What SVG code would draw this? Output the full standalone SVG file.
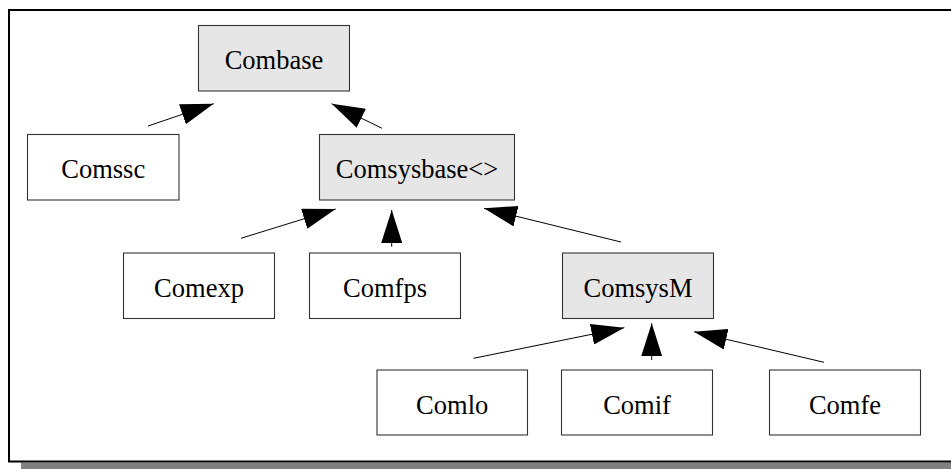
<svg xmlns="http://www.w3.org/2000/svg" width="951" height="469" viewBox="0 0 951 469">
<style>
.box{fill:#ffffff;stroke:#333333;stroke-width:1.1}
.base{fill:#e6e6e6;stroke:#333333;stroke-width:1.1}
.lbl{font-family:"Liberation Serif","Times New Roman",serif;font-size:26.5px;fill:#000;text-anchor:middle}
.edge{stroke:#000;stroke-width:1;fill:none;marker-end:url(#ah)}
</style>
<defs>
<marker id="ah" viewBox="0 0 33 21" refX="33" refY="10.5" markerWidth="33" markerHeight="21" markerUnits="userSpaceOnUse" orient="auto">
<path d="M0,0 L33,10.5 L0,21 Z" fill="#000"/>
</marker>
</defs>
<rect x="0" y="0" width="951" height="469" fill="#ffffff"/>
<rect x="21" y="462.5" width="930" height="6.5" fill="#808080"/>
<rect x="9" y="10" width="960" height="451.5" fill="none" stroke="#000" stroke-width="2"/>
<g id="connectors">
<line class="edge" x1="148" y1="126" x2="213.7" y2="103.7"/>
<line class="edge" x1="382" y1="128.3" x2="331.7" y2="103.7"/>
<line class="edge" x1="241" y1="238.3" x2="335.7" y2="209"/>
<line class="edge" x1="391.7" y1="246.7" x2="391.7" y2="210"/>
<line class="edge" x1="621" y1="242" x2="484" y2="208.3"/>
<line class="edge" x1="473.5" y1="358.3" x2="624.3" y2="327.7"/>
<line class="edge" x1="651.7" y1="360" x2="651.7" y2="323.3"/>
<line class="edge" x1="824" y1="362.3" x2="694" y2="331.7"/>
</g>
<g id="Combase"><rect class="base" x="198.5" y="25.5" width="151" height="65.5"/><text class="lbl" x="274" y="69">Combase</text></g>
<g id="Comssc"><rect class="box" x="27.5" y="134.5" width="151.5" height="65.5"/><text class="lbl" x="103.2" y="178">Comssc</text></g>
<g id="Comsysbase"><rect class="base" x="319.5" y="134.5" width="195" height="65.5"/><text class="lbl" x="417" y="178">Comsysbase&lt;&gt;</text></g>
<g id="Comexp"><rect class="box" x="123.5" y="253" width="151" height="65.5"/><text class="lbl" x="199" y="296.5">Comexp</text></g>
<g id="Comfps"><rect class="box" x="309.5" y="253" width="151" height="65.5"/><text class="lbl" x="385" y="296.5">Comfps</text></g>
<g id="ComsysM"><rect class="base" x="562.5" y="253" width="151" height="65.5"/><text class="lbl" x="638" y="296.5">ComsysM</text></g>
<g id="Comlo"><rect class="box" x="377" y="370" width="150.5" height="65"/><text class="lbl" x="452.2" y="413.5">Comlo</text></g>
<g id="Comif"><rect class="box" x="561.5" y="370" width="151" height="65"/><text class="lbl" x="637" y="413.5">Comif</text></g>
<g id="Comfe"><rect class="box" x="769.5" y="370" width="151" height="65"/><text class="lbl" x="845" y="413.5">Comfe</text></g>
</svg>
